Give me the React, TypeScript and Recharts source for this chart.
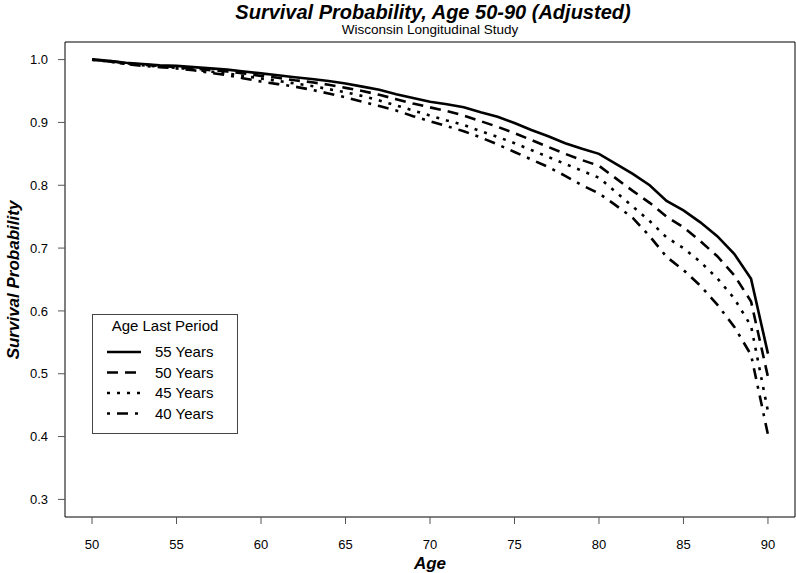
import React from 'react'
import { LineChart, Line, XAxis, YAxis, ReferenceArea } from 'recharts'

const ages = [50, 51, 52, 53, 54, 55, 56, 57, 58, 59, 60, 61, 62, 63, 64, 65, 66, 67, 68, 69, 70,
  71, 72, 73, 74, 75, 76, 77, 78, 79, 80, 81, 82, 83, 84, 85, 86, 87, 88, 89, 90]

const last55 = [1.000, 0.998, 0.995, 0.993, 0.991, 0.990, 0.988, 0.986, 0.984, 0.981, 0.978,
  0.975, 0.972, 0.969, 0.966, 0.962, 0.957, 0.952, 0.945, 0.939, 0.933,
  0.929, 0.924, 0.916, 0.909, 0.899, 0.888, 0.878, 0.867, 0.858, 0.850,
  0.834, 0.818, 0.800, 0.775, 0.760, 0.741, 0.719, 0.691, 0.651, 0.532]

const last50 = [1.000, 0.998, 0.994, 0.992, 0.990, 0.988, 0.986, 0.983, 0.981, 0.978, 0.974,
  0.971, 0.967, 0.964, 0.960, 0.955, 0.950, 0.944, 0.937, 0.930, 0.924,
  0.918, 0.911, 0.902, 0.893, 0.883, 0.872, 0.861, 0.850, 0.840, 0.831,
  0.811, 0.791, 0.772, 0.750, 0.733, 0.711, 0.687, 0.657, 0.615, 0.495]

const last45 = [1.000, 0.997, 0.993, 0.991, 0.989, 0.987, 0.984, 0.981, 0.978, 0.974, 0.970,
  0.966, 0.962, 0.958, 0.953, 0.948, 0.942, 0.935, 0.927, 0.919, 0.911,
  0.903, 0.896, 0.886, 0.877, 0.867, 0.856, 0.845, 0.834, 0.823, 0.812,
  0.789, 0.766, 0.743, 0.717, 0.700, 0.678, 0.652, 0.620, 0.576, 0.440]

const last40 = [1.000, 0.997, 0.993, 0.990, 0.988, 0.986, 0.983, 0.979, 0.975, 0.970, 0.965,
  0.961, 0.957, 0.952, 0.946, 0.940, 0.933, 0.926, 0.919, 0.910, 0.902,
  0.894, 0.886, 0.876, 0.865, 0.853, 0.841, 0.829, 0.815, 0.800, 0.787,
  0.768, 0.748, 0.719, 0.686, 0.665, 0.640, 0.610, 0.575, 0.530, 0.403]

const xTicks = [50, 55, 60, 65, 70, 75, 80, 85, 90]
const yTicks = [0.3, 0.4, 0.5, 0.6, 0.7, 0.8, 0.9, 1.0]

const series = [
  { key: 'p55', label: '55 Years', dash: undefined },
  { key: 'p50', label: '50 Years', dash: '11 7' },
  { key: 'p45', label: '45 Years', dash: '3 7' },
  { key: 'p40', label: '40 Years', dash: '3 7 11 7' },
]

const data = ages.map((age, i) => ({
  age,
  p55: last55[i],
  p50: last50[i],
  p45: last45[i],
  p40: last40[i],
}))

const font = '"Liberation Sans", Arial, Helvetica, sans-serif'
const tickStyle = { fill: '#000', fontSize: 13, fontFamily: font }

// legend box, drawn straight into the chart svg so it takes no layout space
const legendX = 92
const legendY = 314

export default function App() {
  return (
    <div style={{ position: 'absolute', left: 0, top: 0, width: 796, height: 573, background: '#fff' }}>
      <LineChart width={796} height={573} data={data} margin={{ top: 42, right: 1, left: 0, bottom: 0 }}>
        <XAxis
          dataKey="age"
          type="number"
          domain={[48.4, 91.6]}
          ticks={xTicks}
          tick={tickStyle}
          tickSize={7}
          tickMargin={16}
          axisLine={false}
          tickLine={{ stroke: '#555' }}
          height={56}
        />
        <YAxis
          type="number"
          domain={[0.272, 1.028]}
          ticks={yTicks}
          tickFormatter={(v: number) => v.toFixed(1)}
          tick={tickStyle}
          tickSize={7}
          tickMargin={10}
          axisLine={false}
          tickLine={{ stroke: '#555' }}
          width={65}
          allowDataOverflow
        />
        <ReferenceArea x1={48.4} x2={91.6} y1={0.272} y2={1.028} fill="none" stroke="#000" strokeWidth={1} fillOpacity={0} />
        {series.map(s => (
          <Line
            key={s.key}
            type="linear"
            dataKey={s.key}
            stroke="#000"
            strokeWidth={2.6}
            strokeDasharray={s.dash}
            dot={false}
            activeDot={false}
            isAnimationActive={false}
          />
        ))}
        <g transform={`translate(${legendX}, ${legendY})`}>
          <rect x={0.5} y={0.5} width={145} height={119} fill="#fff" stroke="#444" strokeWidth={1} />
          <text x={73} y={17} textAnchor="middle" fontSize={15} fontFamily={font} fill="#000">Age Last Period</text>
          {series.map((s, i) => {
            const y = 38 + i * 20.5
            return (
              <g key={s.key}>
                <line x1={15} x2={49} y1={y} y2={y} stroke="#000" strokeWidth={2.6} strokeDasharray={s.dash} />
                <text x={63} y={y + 5} fontSize={15} fontFamily={font} fill="#000">{s.label}</text>
              </g>
            )
          })}
        </g>
        <text x={433} y={19} textAnchor="middle" fontSize={20} fontWeight="bold" fontStyle="italic" fontFamily={font} fill="#000">
          Survival Probability, Age 50-90 (Adjusted)
        </text>
        <text x={430} y={34} textAnchor="middle" fontSize={13.5} fontFamily={font} fill="#000">
          Wisconsin Longitudinal Study
        </text>
        <text x={430} y={569} textAnchor="middle" fontSize={17} fontWeight="bold" fontStyle="italic" fontFamily={font} fill="#000">
          Age
        </text>
        <text x={19} y={280} textAnchor="middle" fontSize={17} fontWeight="bold" fontStyle="italic" fontFamily={font} fill="#000" transform="rotate(-90 19 280)">
          Survival Probability
        </text>
      </LineChart>
    </div>
  )
}
